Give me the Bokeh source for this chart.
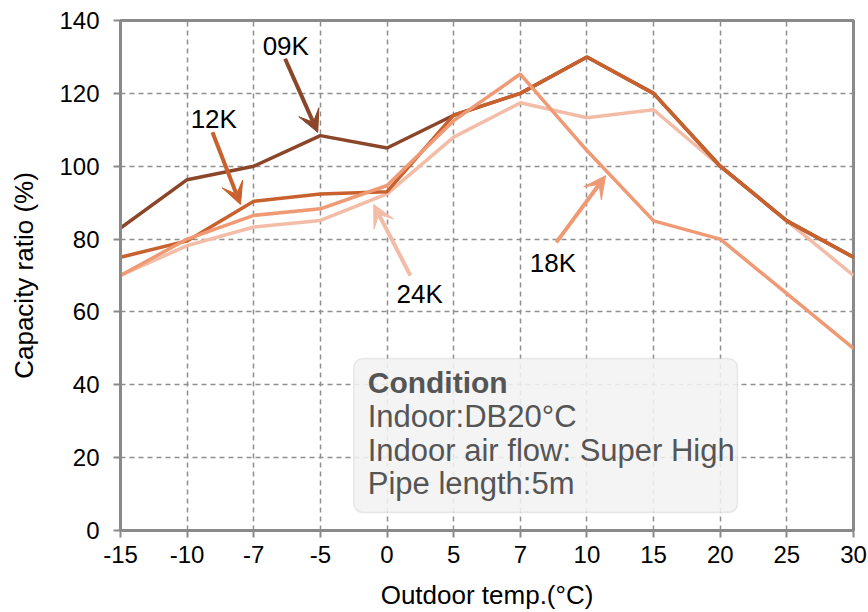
from bokeh.plotting import figure
from bokeh.models import (Range1d, FixedTicker, Arrow, VeeHead, Label, BoxAnnotation)
from bokeh.embed import file_html
from bokeh.resources import INLINE

# ---- data ----
categories = ["-15", "-10", "-7", "-5", "0", "5", "7", "10", "15", "20", "25", "30"]
cap_09k = [83, 96.3, 100, 108.4, 105, 114, 120, 130, 120, 100, 85, 75]
cap_12k = [75, 79.5, 90.4, 92.4, 93, 114, 120, 130, 120, 100, 85, 75]
cap_18k = [70, 80, 86.5, 88.3, 94.7, 112.5, 125.3, 104.3, 85, 80, 65, 50]
cap_24k = [70, 78.2, 83.3, 85.1, 92.4, 108, 117.4, 113.3, 115.5, 100, 85, 70]
y_ticks = [0, 20, 40, 60, 80, 100, 120, 140]

series = ["09K", "12K", "18K", "24K"]
colors = {"09K": "#8b4629", "12K": "#c8612d", "18K": "#ef9a75", "24K": "#f3bca6"}
values = {"09K": cap_09k, "12K": cap_12k, "18K": cap_18k, "24K": cap_24k}

# annotation arrows: label position, arrow tail, arrow tip (data units)
label_pos = {"09K": (2.48, 133.1), "12K": (1.40, 113.0), "24K": (4.49, 65.0), "18K": (6.49, 73.4)}
arrow_pos = {"09K": (2.47, 129.5, 2.96, 109.3),
             "12K": (1.38, 109.3, 1.80, 89.5),
             "24K": (4.35, 70.0, 3.80, 89.5),
             "18K": (6.54, 79.1, 7.28, 97.4)}

condition_title = "Condition"
condition_lines = ["Indoor:DB20°C", "Indoor air flow: Super High", "Pipe length:5m"]

FONT = "Liberation Sans"
GRAY = "#8a8a8a"

xs = list(range(len(categories)))

p = figure(width=868, height=612, output_backend="svg", toolbar_location=None,
           x_range=Range1d(0, len(categories) - 1), y_range=Range1d(0, 140),
           min_border_left=120, min_border_right=15, min_border_top=20, min_border_bottom=82)

p.outline_line_color = GRAY
p.outline_line_width = 3
p.background_fill_color = "white"

for ax in (p.xaxis[0], p.yaxis[0]):
    ax.axis_line_color = GRAY
    ax.axis_line_width = 3
    ax.major_tick_line_color = GRAY
    ax.major_tick_line_width = 2
    ax.major_tick_out = 7
    ax.major_tick_in = 0
    ax.minor_tick_line_color = None
    ax.major_label_text_font = FONT
    ax.major_label_text_font_size = "24px"
    ax.major_label_text_color = "black"
    ax.axis_label_text_font = FONT
    ax.axis_label_text_font_size = "26px"
    ax.axis_label_text_font_style = "normal"
    ax.axis_label_text_color = "black"

p.xaxis.ticker = FixedTicker(ticks=xs)
p.xaxis.major_label_overrides = {i: c for i, c in zip(xs, categories)}
p.yaxis.ticker = FixedTicker(ticks=y_ticks)
p.xaxis.axis_label = "Outdoor temp.(°C)"
p.yaxis.axis_label = "Capacity ratio (%)"
p.xaxis.major_label_standoff = 8
p.yaxis.major_label_standoff = 14
p.xaxis.axis_label_standoff = 14
p.yaxis.axis_label_standoff = 17

for g in (p.xgrid[0], p.ygrid[0]):
    g.grid_line_color = "#8f8f8f"
    g.grid_line_dash = "5 4"
    g.grid_line_width = 1.5

for s in ["24K", "09K", "12K", "18K"]:
    p.line(xs, values[s], line_color=colors[s], line_width=3.5)

for s in series:
    c = colors[s]
    x0, y0, x1, y1 = arrow_pos[s]
    p.add_layout(Arrow(end=VeeHead(size=22, fill_color=c, line_color=c, line_width=1),
                       x_start=x0, y_start=y0, x_end=x1, y_end=y1,
                       line_color=c, line_width=4))
    lx, ly = label_pos[s]
    p.add_layout(Label(x=lx, y=ly, text=s, text_align="center", text_baseline="middle",
                       text_font=FONT, text_font_size="26px", text_color="black"))

p.add_layout(BoxAnnotation(left=3.50, right=9.26, bottom=4.94, top=47.2,
                           fill_color="#f2f2f2", fill_alpha=0.88,
                           line_color="#bdbdbd", line_width=1.5, border_radius=9))

p.add_layout(Label(x=3.71, y=40.6, text=condition_title, text_align="left", text_baseline="middle",
                   text_font=FONT, text_font_size="30px", text_font_style="bold", text_color="#555555"))
for yy, t in zip([31.3, 21.96, 12.8], condition_lines):
    p.add_layout(Label(x=3.71, y=yy, text=t, text_align="left", text_baseline="middle",
                       text_font=FONT, text_font_size="31px", text_color="#555555"))

open("out.html", "w").write(file_html(p, INLINE))
